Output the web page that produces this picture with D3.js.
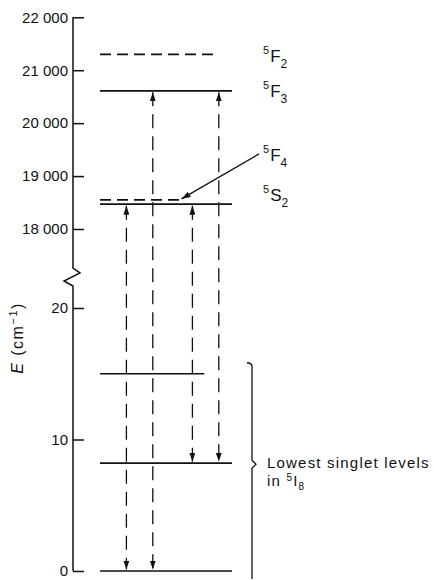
<!DOCTYPE html>
<html>
<head>
<meta charset="utf-8">
<script src="https://cdn.jsdelivr.net/npm/d3@7"></script>
<style>
  body { margin: 0; background: #fff; }
  text { font-family: "Liberation Sans", Arial, sans-serif; fill: #111; }
</style>
</head>
<body>
<div id="chart"></div>
<script>
// energy levels of the upper manifolds (cm-1)
var upperNames = ["F", "F", "F", "S"];
var upperJ = ["2", "3", "4", "2"];
var upperEnergies = [21300, 20610, 18550, 18470];
var upperDashed = [true, false, true, false];
var upperLength = [8.8, 10, 6.1, 10];

// lowest singlet levels in 5I8 (cm-1)
var lowerEnergies = [15, 8.2, 0];
var lowerLength = [7.9, 10, 10];

// transitions: column, upper level index, lower level energy
var transColumn = [2, 4, 7, 9];
var transUpper = [3, 1, 3, 1];
var transLower = [0, 0, 8.2, 8.2];

var upperTicks = [18000, 19000, 20000, 21000, 22000];
var lowerTicks = [0, 10, 20];

var width = 434, height = 580;

var svg = d3.select('#chart').append('svg')
  .attr('width', width)
  .attr('height', height);

svg.append('rect').attr('width', width).attr('height', height).attr('fill', '#fff');

var axisX = 73;
var yUp = d3.scaleLinear().domain([18000, 22000]).range([229, 17.3]);
var yLow = d3.scaleLinear().domain([0, 20]).range([571, 308]);
var x = d3.scaleLinear().domain([0, 10]).range([100, 232]);

function yPos(e) { return e >= 1000 ? yUp(e) : yLow(e); }

var fmt = d3.formatLocale({decimal: ".", thousands: " ", grouping: [3], currency: ["", ""]}).format(",");

// arrow head
svg.append('defs').append('marker')
  .attr('id', 'head')
  .attr('viewBox', '0 0 9 6')
  .attr('refX', 9).attr('refY', 3)
  .attr('markerWidth', 9).attr('markerHeight', 6)
  .attr('markerUnits', 'userSpaceOnUse')
  .attr('orient', 'auto-start-reverse')
  .append('path').attr('d', 'M0,0 L9,3 L0,6 z').attr('fill', '#111');

// axes (ticks point right, labels left)
function drawAxis(scale, ticks, f) {
  var g = svg.append('g').attr('transform', 'translate(' + axisX + ',0)')
    .call(d3.axisLeft(scale).tickValues(ticks).tickFormat(f)
      .tickSizeInner(-11).tickSizeOuter(0).tickPadding(5));
  g.select('.domain').remove();
  g.selectAll('.tick line').attr('stroke', '#111').attr('stroke-width', 1.5);
  g.selectAll('.tick text').attr('font-size', 15).attr('fill', '#111')
    .style('font-family', '"Liberation Sans", Arial, sans-serif');
}
drawAxis(yUp, upperTicks, fmt);
drawAxis(yLow, lowerTicks, d3.format('d'));

// axis line with break
var brk = yUp(18000) + 39;
svg.append('path')
  .attr('d', d3.line()([
    [axisX, yUp(22000)], [axisX, brk], [axisX + 7, brk + 5],
    [axisX - 9, brk + 13], [axisX, brk + 18], [axisX, yLow(0)]
  ]))
  .attr('fill', 'none').attr('stroke', '#111').attr('stroke-width', 1.5);

// axis title
svg.append('text')
  .attr('transform', 'translate(23,' + 338 + ') rotate(-90)')
  .attr('text-anchor', 'middle')
  .attr('font-size', 16)
  .style('letter-spacing', '1.5px')
  .call(function(t) {
    t.append('tspan').style('font-style', 'italic').text('E');
    t.append('tspan').text(' (cm');
    t.append('tspan').attr('font-size', 11).attr('dy', -6).text('\u22121');
    t.append('tspan').attr('dy', 6).text(')');
  });

// upper levels
svg.append('g').selectAll('line')
  .data(upperEnergies)
  .enter().append('line')
  .attr('x1', x(0))
  .attr('x2', function(d, i) { return x(upperLength[i]); })
  .attr('y1', function(d) { return yPos(d); })
  .attr('y2', function(d) { return yPos(d); })
  .attr('stroke', '#111')
  .attr('stroke-width', 1.6)
  .attr('stroke-dasharray', function(d, i) { return upperDashed[i] ? '11,6' : null; });

// lower levels
svg.append('g').selectAll('line')
  .data(lowerEnergies)
  .enter().append('line')
  .attr('x1', x(0))
  .attr('x2', function(d, i) { return x(lowerLength[i]); })
  .attr('y1', function(d) { return yPos(d); })
  .attr('y2', function(d) { return yPos(d); })
  .attr('stroke', '#111')
  .attr('stroke-width', 1.6);

// transitions
svg.append('g').selectAll('line')
  .data(transColumn)
  .enter().append('line')
  .attr('x1', function(d) { return x(d); })
  .attr('x2', function(d) { return x(d); })
  .attr('y1', function(d, i) { return yPos(upperEnergies[transUpper[i]]) + 1.5; })
  .attr('y2', function(d, i) { return yPos(transLower[i]) - 1.5; })
  .attr('stroke', '#111')
  .attr('stroke-width', 1.3)
  .attr('stroke-dasharray', '14,8')
  .attr('marker-start', 'url(#head)')
  .attr('marker-end', 'url(#head)');

// term labels
var labelX = 263;
var labelShift = [8, 6, -39, -3];
var labels = svg.append('g').selectAll('text')
  .data(upperEnergies)
  .enter().append('text')
  .attr('x', labelX)
  .attr('y', function(d, i) { return yPos(d) + labelShift[i]; })
  .attr('font-size', 17);
labels.append('tspan').attr('font-size', 11).attr('dy', -8).text('5');
labels.append('tspan').attr('dx', 1).attr('dy', 8).text(function(d, i) { return upperNames[i]; });
labels.append('tspan').attr('font-size', 12).attr('dy', 6).text(function(d, i) { return upperJ[i]; });

// pointer from 5F4 label to its level
svg.append('line')
  .attr('x1', labelX - 4).attr('y1', yPos(upperEnergies[2]) + labelShift[2] - 7)
  .attr('x2', x(upperLength[2]) + 1).attr('y2', yPos(upperEnergies[2]) - 1)
  .attr('stroke', '#111').attr('stroke-width', 1.3)
  .attr('marker-end', 'url(#head)');

// brace for the lowest singlet levels
var bx = 252, bTop = yPos(15) - 11, bTip = yPos(8.2) + 1, bBot = height - 1;
svg.append('path')
  .attr('d', 'M' + (bx - 5) + ',' + bTop + ' Q' + bx + ',' + bTop + ' ' + bx + ',' + (bTop + 4) +
    ' L' + bx + ',' + (bTip - 4) + ' L' + (bx + 4) + ',' + bTip + ' L' + bx + ',' + (bTip + 4) +
    ' L' + bx + ',' + bBot)
  .attr('fill', 'none').attr('stroke', '#111').attr('stroke-width', 1.3);

var note = svg.append('text').attr('x', 267).attr('y', bTip + 4)
  .attr('font-size', 15).style('letter-spacing', '1.2px');
note.append('tspan').text('Lowest singlet levels');
var line2 = svg.append('text').attr('x', 267).attr('y', bTip + 22)
  .attr('font-size', 15).style('letter-spacing', '1.2px');
line2.append('tspan').text('in ');
line2.append('tspan').attr('font-size', 10).attr('dy', -5).text('5');
line2.append('tspan').attr('dy', 5).text('I');
line2.append('tspan').attr('font-size', 10).attr('dy', 4).text('8');
</script>
</body>
</html>
